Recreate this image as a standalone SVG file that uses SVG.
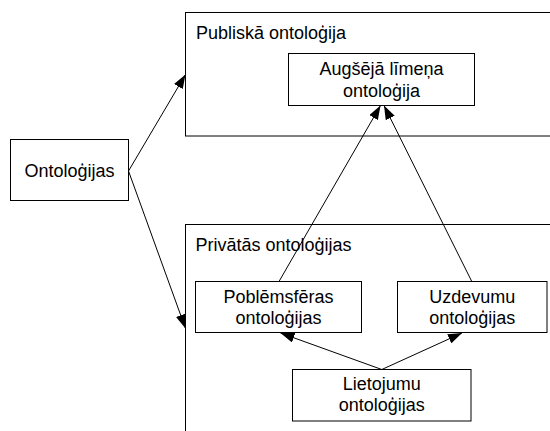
<svg xmlns="http://www.w3.org/2000/svg" width="550" height="431" viewBox="0 0 550 431">
<defs>
<marker id="ah" viewBox="0 0 14 10" refX="14" refY="5" markerWidth="14" markerHeight="10" markerUnits="userSpaceOnUse" orient="auto">
<path d="M0,0 L14,5 L0,10 z" fill="#000"/>
</marker>
<style>
.box{fill:#fff;stroke:#000;stroke-width:1}
.t{font-family:"Liberation Sans",Arial,sans-serif;font-size:18px;fill:#000}
.c{text-anchor:middle}
.ln{stroke:#000;stroke-width:1;fill:none;marker-end:url(#ah)}
</style>
</defs>
<rect width="550" height="431" fill="#fff"/>
<g id="publiska">
<rect class="box" x="185.5" y="12.5" width="380" height="123.5"/>
<text class="t" x="196" y="38.5">Publiskā ontoloģija</text>
</g>
<g id="privatas">
<rect class="box" x="185.5" y="224.5" width="380" height="220"/>
<text class="t" x="195.5" y="251">Privātās ontoloģijas</text>
</g>
<g id="augseja">
<rect class="box" x="288.5" y="53.5" width="186" height="52"/>
<text class="t c" x="381.5" y="75">Augšējā līmeņa</text>
<text class="t c" x="381.5" y="97">ontoloģija</text>
</g>
<g id="ontologijas">
<rect class="box" x="10.5" y="139.5" width="118" height="61"/>
<text class="t c" x="69.5" y="176.5">Ontoloģijas</text>
</g>
<g id="poblemsferas">
<rect class="box" x="195.5" y="281.5" width="166" height="51"/>
<text class="t c" x="278.5" y="302.5">Poblēmsfēras</text>
<text class="t c" x="278.5" y="324">ontoloģijas</text>
</g>
<g id="uzdevumu">
<rect class="box" x="397.5" y="281.5" width="149.5" height="51"/>
<text class="t c" x="472.2" y="302.5">Uzdevumu</text>
<text class="t c" x="472.2" y="324">ontoloģijas</text>
</g>
<g id="lietojumu">
<rect class="box" x="292.5" y="369.5" width="178.5" height="51.5"/>
<text class="t c" x="381.8" y="389.5">Lietojumu</text>
<text class="t c" x="381.8" y="411">ontoloģijas</text>
</g>
<g id="connectors">
<line class="ln" x1="128.5" y1="171" x2="185.5" y2="74.5"/>
<line class="ln" x1="128.5" y1="171" x2="185.5" y2="328.5"/>
<line class="ln" x1="279" y1="281.5" x2="380.5" y2="105.5"/>
<line class="ln" x1="471.8" y1="281.5" x2="384" y2="105.5"/>
<line class="ln" x1="381.8" y1="369.5" x2="280.5" y2="333"/>
<line class="ln" x1="381.8" y1="369.5" x2="462" y2="333"/>
</g>
</svg>
